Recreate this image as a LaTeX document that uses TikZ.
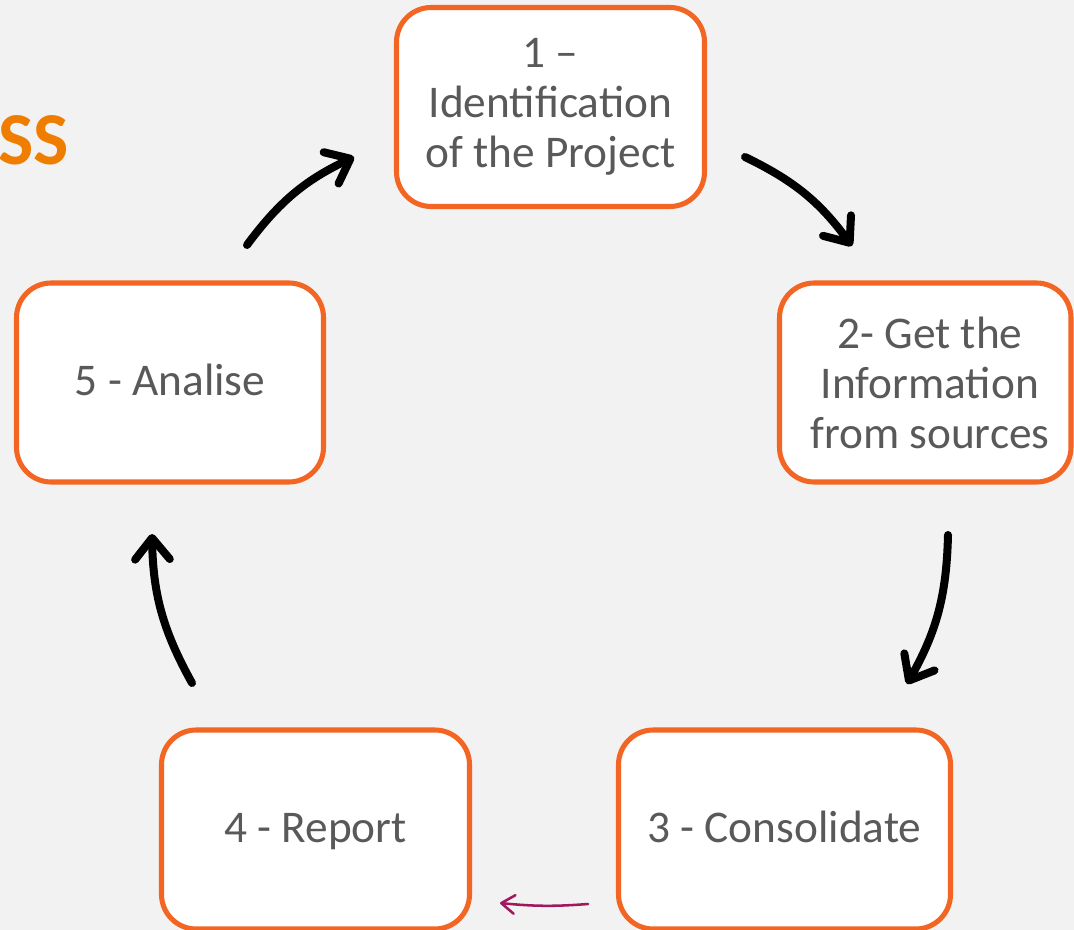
\documentclass[tikz,border=0pt]{standalone}
\usepackage{fontspec}
\setmainfont{Carlito}
\usetikzlibrary{arrows.meta}
\definecolor{bg}{HTML}{F2F2F2}
\definecolor{boxorange}{HTML}{F26522}
\definecolor{txtgray}{HTML}{595959}
\definecolor{titleorange}{HTML}{EF7D00}
\definecolor{plum}{HTML}{A0185E}
\newcommand{\baselinefix}{\rule[-8pt]{0pt}{36pt}}
\tikzset{
  stepbox/.style={draw=boxorange, line width=3.8pt, fill=white, rounded corners=26pt,
    inner sep=0pt, align=center, text=txtgray,
    font=\fontsize{34}{37.5}\selectfont},
  cyc/.style={line width=6pt, line cap=round, black,
    -{Straight Barb[length=16pt, width=26pt, line cap=round, line join=round]}},
  back/.style={line width=1.9pt, line cap=round, plum,
    -{Straight Barb[length=10pt, width=14pt, line cap=round, line join=round]}}
}
\begin{document}
\begin{tikzpicture}[x=0.75pt, y=-0.75pt]
\useasboundingbox (0,0) rectangle (1074,930);
\clip (0,0) rectangle (1074,930);
\fill[bg] (0,0) rectangle (1074,930);

\node[anchor=base east, text=titleorange, font=\fontsize{56}{64}\selectfont\bfseries, inner sep=0pt] (title) at (69,165) {SS};

\node[stepbox, minimum width=231pt, minimum height=149.25pt] (n1) at (550.5,107) {1 –\\Identification\\of the Project};
\node[stepbox, minimum width=218.6pt, minimum height=149.25pt] (n2) at (925.25,382.5) {\hspace*{7pt}2- Get the\\\hspace*{7pt}Information\\\hspace*{7pt}from sources};
\node[stepbox, minimum width=249pt, minimum height=149.25pt] (n3) at (784.5,829.5) {\baselinefix3 - Consolidate};
\node[stepbox, minimum width=231pt, minimum height=149.25pt] (n4) at (315.5,829.5) {\baselinefix4 - Report};
\node[stepbox, minimum width=230.25pt, minimum height=149.25pt] (n5) at (170,382.5) {\baselinefix5 - Analise};

\coordinate (a1s) at (745,157);
\coordinate (a1e) at (852,246);
\coordinate (a2s) at (948,535);
\coordinate (a2e) at (907,684);
\coordinate (a3s) at (192,683);
\coordinate (a3e) at (152,534);
\coordinate (a4s) at (247,245);
\coordinate (a4e) at (354,157);
\coordinate (a5s) at (588,904);
\coordinate (a5e) at (500,903);

\draw[cyc] (a1s) to[bend left=14] (a1e);
\draw[cyc] (a2s) to[bend left=14] (a2e);
\draw[cyc] (a3s) to[bend left=14] (a3e);
\draw[cyc] (a4s) to[bend left=14] (a4e);
\draw[back] (a5s) to[bend left=5] (a5e);
\end{tikzpicture}
\end{document}
